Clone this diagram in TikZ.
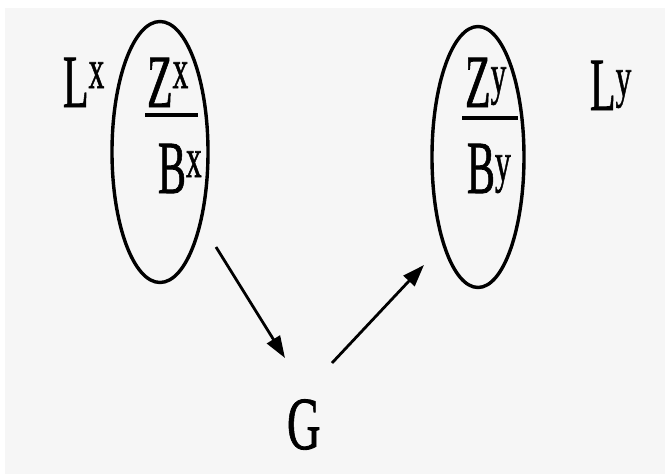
\documentclass[tikz,border=0pt]{standalone}
\usepackage{fontspec}
\setmainfont{Liberation Serif}[FakeBold=1.2]
\usetikzlibrary{shapes.geometric,arrows.meta}
\newcommand{\bigsym}[3]{\scalebox{0.56}[1]{\fontsize{75}{75}\selectfont #1\raisebox{#3pt}{\fontsize{56}{56}\selectfont #2}}}
\tikzset{
  lbl/.style={inner sep=0pt, outer sep=0pt, anchor=base west, font=\fontsize{75}{75}\selectfont},
  oval/.style={draw, ellipse, line width=3.4pt, inner sep=0pt},
  bar/.style={line width=3.8pt},
  arr/.style={line width=2.8pt, -{Triangle[length=22pt,width=15pt]}}
}
\begin{document}
\begin{tikzpicture}[x=1pt,y=-1pt]
\useasboundingbox (0,0) rectangle (665,474);
\fill[white] (0,0) rectangle (665,474);
\fill[gray!7] (5,8) rectangle (665,474);
% ellipses
\node[oval, minimum width=96pt, minimum height=261pt] (ex) at (160,152) {};
\node[oval, minimum width=92pt, minimum height=261pt] (ey) at (478,157) {};
% labels
\node[lbl] (lx) at (63,107) {\bigsym{L}{x}{19}};
\node[lbl] (zx) at (147,107) {\bigsym{Z}{x}{19}};
\node[lbl] (bx) at (158,193) {\bigsym{B}{x}{16}};
\node[lbl] (zy) at (465,107) {\bigsym{Z}{y}{14}};
\node[lbl] (by) at (467,193) {\bigsym{B}{y}{12}};
\node[lbl] (ly) at (590,110) {\bigsym{L}{y}{14}};
\node[lbl] (g) at (287,449) {\scalebox{0.62}[1]{G}};
% fraction bars
\coordinate (bxl) at (145,115); \coordinate (bxr) at (198,115);
\coordinate (byl) at (462,118); \coordinate (byr) at (518,118);
\draw[bar] (bxl) -- (bxr);
\draw[bar] (byl) -- (byr);
% arrows
\coordinate (s1) at (216,247); \coordinate (t1) at (285,358);
\coordinate (s2) at (332,363); \coordinate (t2) at (424,265);
\draw[arr] (s1) -- (t1);
\draw[arr] (s2) -- (t2);
\end{tikzpicture}
\end{document}
